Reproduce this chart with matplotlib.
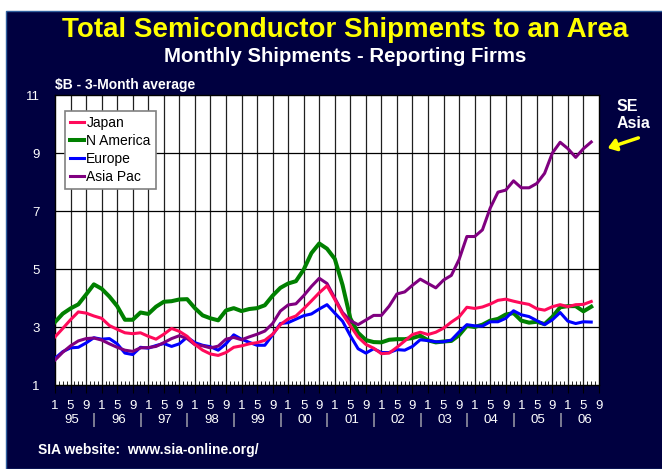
import numpy as np
import matplotlib
matplotlib.use("Agg")
import matplotlib.pyplot as plt
import matplotlib.transforms as mtransforms

plt.rcParams['font.family'] = ['Liberation Sans', 'DejaVu Sans']

# months since Jan 1995, every 2nd month
months = np.arange(0, 140, 2)

japan = [2.66, 2.95, 3.25, 3.52, 3.48, 3.38, 3.3, 3.05, 2.92, 2.8,
         2.77, 2.8, 2.68, 2.58, 2.75, 2.95, 2.85, 2.68, 2.4, 2.2,
         2.07, 2.02, 2.12, 2.3, 2.35, 2.42, 2.46, 2.54, 2.75, 3.08,
         3.28, 3.38, 3.63, 3.9, 4.18, 4.42, 3.95, 3.45, 3.05, 2.65,
         2.4, 2.27, 2.08, 2.1, 2.3, 2.52, 2.74, 2.82, 2.74, 2.82,
         2.96, 3.17, 3.35, 3.68, 3.64, 3.69, 3.79, 3.92, 3.96, 3.89,
         3.83, 3.78, 3.63, 3.58, 3.7, 3.77, 3.7, 3.77, 3.78, 3.88]

n_america = [3.17, 3.46, 3.64, 3.78, 4.12, 4.47, 4.32, 4.05, 3.72, 3.25,
             3.25, 3.5, 3.45, 3.7, 3.87, 3.89, 3.95, 3.96, 3.65, 3.4,
             3.3, 3.23, 3.57, 3.65, 3.55, 3.62, 3.65, 3.75, 4.08, 4.35,
             4.5, 4.58, 4.98, 5.55, 5.88, 5.7, 5.35, 4.45, 3.3, 2.8,
             2.55, 2.48, 2.47, 2.56, 2.58, 2.58, 2.62, 2.7, 2.54, 2.47,
             2.5, 2.52, 2.72, 3.04, 3.0, 3.08, 3.22, 3.28, 3.43, 3.48,
             3.22, 3.15, 3.18, 3.1, 3.35, 3.68, 3.72, 3.72, 3.54, 3.7]

europe = [1.92, 2.15, 2.28, 2.3, 2.45, 2.63, 2.58, 2.6, 2.42, 2.1,
          2.05, 2.3, 2.27, 2.36, 2.43, 2.33, 2.42, 2.65, 2.46, 2.37,
          2.32, 2.2, 2.42, 2.73, 2.58, 2.47, 2.37, 2.37, 2.73, 3.12,
          3.15, 3.27, 3.39, 3.45, 3.62, 3.77, 3.48, 3.2, 2.7, 2.25,
          2.1, 2.25, 2.12, 2.12, 2.22, 2.2, 2.33, 2.56, 2.53, 2.49,
          2.49, 2.55, 2.83, 3.08, 3.04, 3.03, 3.18, 3.18, 3.3, 3.56,
          3.42, 3.36, 3.22, 3.08, 3.25, 3.5, 3.2, 3.12, 3.18, 3.17]

asia_pac = [1.86, 2.13, 2.35, 2.52, 2.6, 2.62, 2.55, 2.42, 2.3, 2.2,
            2.16, 2.28, 2.29, 2.33, 2.46, 2.6, 2.7, 2.6, 2.39, 2.35,
            2.28, 2.34, 2.58, 2.64, 2.56, 2.66, 2.75, 2.86, 3.12, 3.55,
            3.76, 3.8, 4.08, 4.4, 4.68, 4.5, 4.0, 3.5, 3.22, 3.08,
            3.24, 3.4, 3.4, 3.72, 4.14, 4.21, 4.44, 4.65, 4.5, 4.35,
            4.62, 4.78, 5.33, 6.12, 6.12, 6.35, 7.1, 7.65, 7.72, 8.04,
            7.8, 7.8, 7.95, 8.3, 9.0, 9.37, 9.15, 8.85, 9.15, 9.38]

month_labels = ['1', '5', '9'] * 12
year_labels = ['95', '96', '97', '98', '99', '00', '01', '02', '03', '04', '05', '06']
y_ticks = [1, 3, 5, 7, 9, 11]

navy = '#000040'

fig = plt.figure(figsize=(6.62, 4.69), dpi=100)
fig.patch.set_facecolor('white')
# navy panel behind everything
fig.patches.append(plt.Rectangle((6 / 662, 0), 1, 1 - 11 / 469, transform=fig.transFigure,
                                 facecolor=navy, edgecolor='#3060a0', lw=1, zorder=-1))

ax = fig.add_axes([55 / 662, 1 - 385 / 469, 544 / 662, 290 / 469])
ax.set_facecolor('white')

ax.plot(months, japan, color='#ff0a5a', lw=2.2, label='Japan', zorder=4)
ax.plot(months, n_america, color='#008000', lw=2.9, label='N America', zorder=3)
ax.plot(months, europe, color='#0000ff', lw=2.2, label='Europe', zorder=3)
ax.plot(months, asia_pac, color='#800080', lw=2.2, label='Asia Pac', zorder=3)

ax.set_xlim(0, 140)
ax.set_ylim(1, 11)

ax.set_xticks(np.arange(0, 141, 4))
ax.set_xticklabels(month_labels, color='white', fontsize=9.5)
ax.set_xticks(np.arange(0, 141, 1), minor=True)
ax.tick_params(axis='x', which='major', direction='out', length=6, color='black', pad=5)
ax.tick_params(axis='x', which='minor', direction='in', length=3, color='black')
ax.set_yticks(y_ticks)
ax.set_yticklabels([str(v) for v in y_ticks], color='white', fontsize=9.5)
ax.tick_params(axis='y', length=0, pad=11)

for m in np.arange(4, 140, 4):
    ax.axvline(m, color='#202020', lw=0.9, zorder=1)
for v in y_ticks[1:-1]:
    ax.axhline(v, color='black', lw=0.9, zorder=1)
for s in ax.spines.values():
    s.set_color('black')
    s.set_linewidth(1)

trans = mtransforms.blended_transform_factory(ax.transData, ax.transAxes)
for i, yr in enumerate(year_labels):
    ax.text(12 * i + 4.3, -0.12, yr, transform=trans, ha='center', va='center',
            color='white', fontsize=9.5)
    if i < len(year_labels) - 1:
        ax.text(12 * i + 10, -0.12, '|', transform=trans, ha='center', va='center',
                color='#c0c0c0', fontsize=11)

leg = ax.legend(loc='upper left', bbox_to_anchor=(0.018, 0.945), borderaxespad=0,
                fontsize=10, handlelength=1.0, handletextpad=0.2, labelspacing=0.3,
                fancybox=False, framealpha=1, borderpad=0.35)
leg.get_frame().set_edgecolor('#808080')
leg.get_frame().set_linewidth(1.2)
leg.set_zorder(6)

fig.text(0.5215, 1 - 30 / 469, 'Total Semiconductor Shipments to an Area', color='#ffff00',
         fontsize=20, fontweight='bold', ha='center', va='center')
fig.text(0.5215, 1 - 57 / 469, 'Monthly Shipments - Reporting Firms', color='white',
         fontsize=14.7, fontweight='bold', ha='center', va='center')
fig.text(55 / 662, 1 - 85 / 469, '$B - 3-Month average', color='white',
         fontsize=10, fontweight='bold', ha='left', va='center')
fig.text(38 / 662, 1 - 450 / 469, 'SIA website:  www.sia-online.org/', color='white',
         fontsize=10, fontweight='bold', ha='left', va='center')
fig.text(617 / 662, 1 - 115 / 469, 'SE\nAsia', color='white', fontsize=11.5,
         fontweight='bold', ha='left', va='center', linespacing=1.1)
ax.annotate('', xy=(605 / 662, 1 - 149 / 469), xytext=(641 / 662, 1 - 137 / 469),
            xycoords='figure fraction', textcoords='figure fraction',
            arrowprops=dict(arrowstyle='-|>,head_length=0.5,head_width=0.35',
                            color='#ffff00', lw=2.5), annotation_clip=False)

fig.savefig('out.png', dpi=100, facecolor=fig.get_facecolor())
